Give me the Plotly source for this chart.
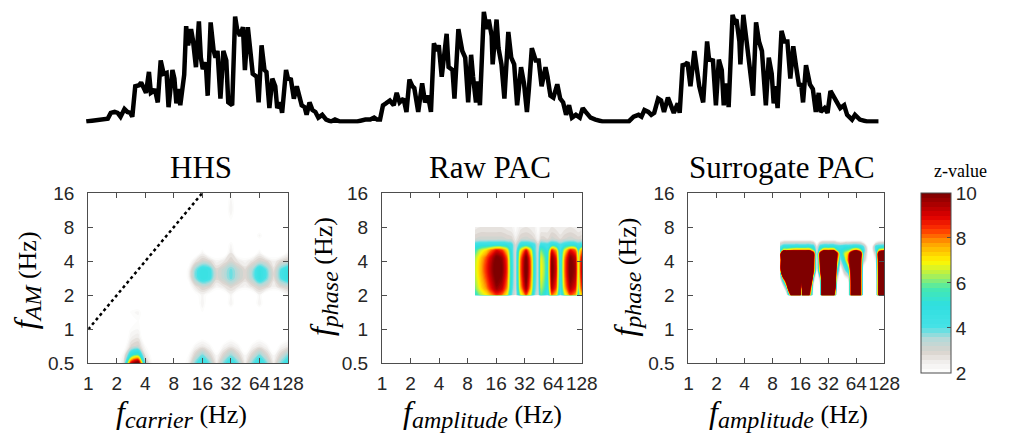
import numpy as np
import plotly.graph_objects as go

# ---------------- top signal (sample index, amplitude a.u.) ----------------
signal_sample = [0, 10, 17, 22, 25, 29, 32, 35, 39, 42, 45, 47, 50, 54, 56, 59, 61, 64, 66, 69, 70, 73, 76, 79, 82, 84,
                 88, 90, 92, 94, 96, 100, 102, 104, 107, 109, 112, 115, 117, 119, 122, 124, 127, 130, 132, 134, 137,
                 140, 143, 145, 149, 152, 154, 157, 160, 162, 165, 170, 174, 176, 179, 182, 184, 187, 190, 193, 195,
                 198, 200, 204, 206, 209, 212, 215, 218, 220, 223, 225, 228, 231, 234, 237, 241, 245, 250, 254, 259,
                 267, 277, 285, 290, 294, 297, 300,
                 303, 306, 310, 314, 317, 320, 324, 327, 330, 333, 335, 339, 343, 346, 349, 352, 355, 358, 360, 363,
                 368, 370, 374, 376, 380, 384, 387, 390, 393, 395, 398, 400, 402, 406, 409, 411, 414, 415, 419, 421,
                 424, 427, 431, 434, 437, 440, 444, 447, 450, 452, 455, 459, 462, 465, 469, 471, 474, 477, 481, 484,
                 487, 490, 493, 496, 500, 504, 507, 510, 515, 520, 527, 540, 554,
                 559, 564, 567, 570, 574, 577, 580, 584, 587, 590, 594, 597, 600, 604, 606, 609, 612, 614, 617, 621,
                 624, 626, 630, 634, 636, 640, 643, 646, 649, 651, 654, 656, 660, 662, 664, 667, 668, 671, 674, 677,
                 681, 684, 687, 690, 694, 697, 700, 702, 704, 706, 710, 713, 716, 719, 722, 725, 728, 730, 732, 735,
                 739, 742, 745, 748, 750, 754, 757, 760, 764, 767, 770, 774, 777, 782, 785, 790, 797, 809]
signal_amp = [0, 1, 2, 3, 9, 10, 9, 5, 13, 10, 9, 5, 37, 38, 41, 35, 30, 52, 30, 32, 34, 20, 64, 50, 51, 15,
              54, 45, 19, 34, 17, 49, 100, 80, 97, 85, 57, 105, 67, 55, 62, 27, 104, 75, 67, 74, 24,
              74, 64, 20, 17, 110, 97, 90, 99, 54, 99, 50, 47, 20, 80, 54, 52, 14, 45, 37, 14,
              20, 9, 54, 45, 44, 24, 37, 27, 17, 15, 7, 20, 12, 10, 4, 7, 2, 0, 2, 0,
              0, 0, 2, 2, 4, 2, 2,
              17, 19, 22, 17, 30, 20, 24, 10, 44, 37, 35, 10, 40, 20, 27, 10, 82, 74, 80, 47,
              92, 57, 54, 24, 97, 74, 67, 20, 70, 47, 20, 42, 17, 115, 97, 107, 90, 60, 107, 77,
              60, 24, 94, 67, 60, 17, 57, 40, 10, 34, 77, 64, 64, 37, 57, 47, 27, 25, 39, 24,
              20, 7, 17, 4, 7, 4, 14, 10, 4, 2, 0, 0, 0,
              5, 7, 5, 12, 10, 7, 9, 24, 22, 10, 25, 17, 9, 19, 9, 59, 60, 62, 37, 74,
              50, 37, 20, 84, 65, 64, 17, 65, 54, 17, 40, 15, 112, 105, 107, 84, 60, 112, 87, 64,
              27, 104, 84, 74, 17, 67, 50, 19, 37, 14, 95, 84, 84, 45, 79, 57, 37, 40, 20, 59,
              39, 34, 10, 30, 10, 14, 9, 32, 24, 20, 14, 17, 7, 2, 7, 2, 0, 0]

# ---------------- shared ticks ----------------
x_ticks = [1, 2, 4, 8, 16, 32, 64, 128]
x_tick_text = ["1", "2", "4", "8", "16", "32", "64", "128"]
y_ticks = [0.5, 1, 2, 4, 8, 16]
y_tick_text = ["0.5", "1", "2", "4", "8", "16"]
cbar_ticks = [2, 4, 6, 8, 10]

# ---------------- HHS ----------------
hhs_carrier_hz = [1, 1.189, 1.414, 1.682, 2, 2.378, 2.828, 3.364, 4, 4.757, 5.657, 6.727, 8, 9.514, 11.31, 13.45,
                  16, 19.03, 22.63, 26.91, 32, 38.05, 45.25, 53.82, 64, 76.11, 90.51, 107.6, 128]
hhs_am_hz = [0.5, 0.5946, 0.7071, 0.8409, 1, 1.189, 1.414, 1.682, 2, 2.378, 2.828, 3.364, 4, 4.757, 5.657, 6.727,
             8, 9.514, 11.31, 13.45, 16]
hhs_z = [
    [1.5, 1.5, 1.5, 1.5, 1.6, 2.8, 9.5, 11, 3.6, 2.0, 1.5, 1.5, 1.5, 1.6, 2.3, 3.9, 4.6, 3.9, 2.5, 3.9, 4.5, 3.9, 2.5, 3.9, 4.6, 3.9, 2.5, 3.9, 4.6],
    [1.5, 1.5, 1.5, 1.5, 1.5, 2.3, 5.0, 5.8, 2.6, 1.8, 1.5, 1.5, 1.5, 1.5, 2.0, 3.0, 3.8, 3.0, 2.2, 3.0, 3.7, 3.0, 2.2, 3.0, 3.8, 3.0, 2.2, 3.0, 3.8],
    [1.5, 1.5, 1.5, 1.5, 1.5, 1.8, 2.9, 3.1, 2.1, 1.5, 1.5, 1.5, 1.5, 1.5, 1.5, 2.3, 2.6, 2.3, 1.5, 2.3, 2.6, 2.3, 1.5, 2.3, 2.6, 2.3, 1.5, 2.3, 2.6],
    [1.5, 1.5, 1.5, 1.5, 1.5, 1.5, 2.4, 2.6, 1.5, 1.5, 1.5, 1.5, 1.5, 1.5, 1.5, 1.5, 1.9, 1.5, 1.5, 1.5, 1.9, 1.5, 1.5, 1.5, 1.9, 1.5, 1.5, 1.5, 1.9],
    [1.5, 1.5, 1.5, 1.5, 1.5, 1.5, 2.1, 2.2, 1.5, 1.5, 1.5, 1.5, 1.5, 1.5, 1.5, 1.5, 1.5, 1.5, 1.5, 1.5, 1.5, 1.5, 1.5, 1.5, 1.5, 1.5, 1.5, 1.5, 1.5],
    [1.5, 1.5, 1.5, 1.5, 1.5, 1.5, 1.5, 2.0, 1.5, 1.5, 1.5, 1.5, 1.5, 1.5, 1.5, 1.5, 1.5, 1.5, 1.5, 1.5, 1.5, 1.5, 1.5, 1.5, 1.5, 1.5, 1.5, 1.5, 1.5],
    [1.5, 1.5, 1.5, 1.5, 1.5, 1.5, 2.1, 2.3, 1.5, 1.5, 1.5, 1.5, 1.5, 1.5, 1.5, 1.5, 2.0, 1.5, 1.5, 1.5, 1.5, 1.5, 1.5, 1.5, 1.5, 1.5, 1.5, 1.5, 1.5],
    [1.5, 1.5, 1.5, 1.5, 1.5, 1.5, 1.5, 1.5, 1.5, 1.5, 1.5, 1.5, 1.5, 1.5, 1.5, 1.5, 2.4, 1.5, 1.5, 1.5, 2.4, 1.5, 1.5, 1.5, 2.4, 1.5, 1.5, 1.5, 1.5],
    [1.5, 1.5, 1.5, 1.5, 1.5, 1.5, 1.5, 1.5, 1.5, 1.5, 1.5, 1.5, 1.5, 1.5, 1.5, 1.8, 2.3, 1.8, 1.5, 1.5, 2.3, 1.5, 1.5, 1.5, 2.3, 1.5, 1.5, 1.5, 2.2],
    [1.5, 1.5, 1.5, 1.5, 1.5, 1.5, 1.5, 1.5, 1.5, 1.5, 1.5, 1.5, 1.5, 1.5, 1.7, 2.6, 3.1, 2.9, 2.3, 2.6, 2.9, 2.6, 2.3, 2.7, 3.1, 2.9, 2.4, 2.9, 3.1],
    [1.5, 1.5, 1.5, 1.5, 1.5, 1.5, 1.5, 1.5, 1.5, 1.5, 1.5, 1.5, 1.5, 1.5, 2.1, 3.7, 4.6, 4.3, 2.9, 3.3, 3.9, 3.3, 2.8, 3.5, 4.7, 3.9, 2.7, 4.0, 4.7],
    [1.5, 1.5, 1.5, 1.5, 1.5, 1.5, 1.5, 1.5, 1.5, 1.5, 1.5, 1.5, 1.5, 1.5, 2.1, 3.7, 4.6, 4.3, 2.9, 3.3, 3.9, 3.3, 2.8, 3.5, 4.7, 3.9, 2.7, 4.0, 4.7],
    [1.5, 1.5, 1.5, 1.5, 1.5, 1.5, 1.5, 1.5, 1.5, 1.5, 1.5, 1.5, 1.5, 1.5, 1.7, 2.6, 3.1, 2.9, 2.3, 2.6, 3.0, 2.6, 2.3, 2.7, 3.1, 2.9, 2.4, 2.9, 3.1],
    [1.5, 1.5, 1.5, 1.5, 1.5, 1.5, 1.5, 1.5, 1.5, 1.5, 1.5, 1.5, 1.5, 1.5, 1.5, 1.5, 2.3, 1.5, 1.5, 1.5, 2.6, 1.5, 1.5, 1.5, 2.3, 1.5, 1.5, 1.5, 2.2],
    [1.5, 1.5, 1.5, 1.5, 1.5, 1.5, 1.5, 1.5, 1.5, 1.5, 1.5, 1.5, 1.5, 1.5, 1.5, 1.5, 1.5, 1.5, 1.5, 1.5, 2.2, 1.5, 1.5, 1.5, 1.5, 1.5, 1.5, 1.5, 1.5],
    [1.5, 1.5, 1.5, 1.5, 1.5, 1.5, 1.5, 1.5, 1.5, 1.5, 1.5, 1.5, 1.5, 1.5, 1.5, 1.5, 1.5, 1.5, 1.5, 1.5, 1.5, 1.5, 1.5, 1.5, 2.3, 1.5, 1.5, 1.5, 1.5],
    [1.5, 1.5, 1.5, 1.5, 1.5, 1.5, 1.5, 1.5, 1.5, 1.5, 1.5, 1.5, 1.5, 1.5, 1.5, 1.5, 1.5, 1.5, 1.5, 1.5, 1.5, 1.5, 1.5, 1.5, 1.5, 1.5, 1.5, 1.5, 1.5],
    [1.5, 1.5, 1.5, 1.5, 1.5, 1.5, 1.5, 1.5, 1.5, 1.5, 1.5, 1.5, 1.5, 1.5, 1.5, 1.5, 1.5, 1.5, 1.5, 1.5, 2.1, 1.5, 1.5, 1.5, 1.5, 1.5, 1.5, 1.5, 1.5],
    [1.5, 1.5, 1.5, 1.5, 1.5, 1.5, 1.5, 1.5, 1.5, 1.5, 1.5, 1.5, 1.5, 1.5, 1.5, 1.5, 1.5, 1.5, 1.5, 1.5, 2.4, 1.5, 1.5, 1.5, 1.5, 1.5, 1.5, 1.5, 1.5],
    [1.5, 1.5, 1.5, 1.5, 1.5, 1.5, 1.5, 1.5, 1.5, 1.5, 1.5, 1.5, 1.5, 1.5, 1.5, 1.5, 1.5, 1.5, 1.5, 1.5, 2.3, 1.5, 1.5, 1.5, 1.5, 1.5, 1.5, 1.5, 1.5],
    [1.5, 1.5, 1.5, 1.5, 1.5, 1.5, 1.5, 1.5, 1.5, 1.5, 1.5, 1.5, 1.5, 1.5, 1.5, 1.5, 1.5, 1.5, 1.5, 1.5, 2.1, 1.5, 1.5, 1.5, 1.5, 1.5, 1.5, 1.5, 1.5],
]
diag_hz = [1, 16]

# ---------------- Raw PAC ----------------
raw_amp_hz = [9.58, 10.93, 12.55, 14.42, 16.22, 18.38, 20.82, 23.43, 25.63, 28.84, 33.13, 37.27, 40.79, 44.32,
              47.50, 51.27, 55.72, 61.82, 68.59, 76.11, 84.45, 97.01, 109.9, 117.8, 128]
raw_phase_hz = [2.0, 2.3, 2.7, 3.2, 3.7, 4.3, 5.0, 5.6, 6.3, 7.2, 8.0]
raw_z = [
    [5.2, 6.2, 6.9, 7.8, 8.4, 8.0, 6.8, 3.8, 2.7, 6.4, 8.2, 6.4, 3.8, 2.9, 5.8, 5.2, 4.2, 8.0, 7.2, 3.8, 6.4, 8.2, 7.6, 5.4, 7.6],
    [6.0, 7.0, 7.8, 8.9, 9.7, 9.2, 7.8, 4.2, 2.8, 7.4, 9.7, 7.4, 4.2, 3.0, 6.4, 5.8, 4.6, 9.4, 8.3, 4.2, 7.4, 9.5, 8.7, 6.0, 8.7],
    [6.3, 7.3, 8.2, 9.3, 10.2, 9.7, 8.2, 4.4, 2.8, 7.8, 10.2, 7.8, 4.4, 3.0, 6.8, 6.1, 4.9, 9.9, 8.7, 4.4, 7.8, 10.0, 9.2, 6.3, 9.2],
    [6.5, 7.5, 8.5, 9.6, 10.5, 10.0, 8.5, 4.5, 2.8, 8.0, 10.5, 8.0, 4.5, 3.0, 7.0, 6.3, 5.0, 10.2, 9.0, 4.5, 8.0, 10.3, 9.5, 6.5, 9.5],
    [6.5, 7.5, 8.5, 9.6, 10.5, 10.0, 8.5, 4.5, 2.8, 8.0, 10.5, 8.0, 4.5, 3.0, 7.0, 6.3, 5.0, 10.2, 9.0, 4.5, 8.0, 10.3, 9.5, 6.5, 9.5],
    [6.3, 7.3, 8.2, 9.3, 10.2, 9.7, 8.2, 4.4, 2.8, 7.8, 10.2, 7.8, 4.4, 3.0, 6.8, 6.1, 4.9, 9.9, 8.7, 4.4, 7.8, 10.0, 9.2, 6.3, 9.2],
    [5.5, 6.5, 7.2, 8.2, 8.9, 8.5, 7.2, 4.3, 2.8, 6.8, 8.9, 6.8, 4.2, 3.0, 6.0, 5.4, 4.5, 8.7, 7.7, 4.2, 6.8, 8.8, 8.1, 5.5, 8.1],
    [4.4, 4.6, 4.6, 4.7, 4.7, 4.7, 4.6, 4.2, 2.8, 4.5, 4.7, 4.5, 4.1, 2.9, 4.4, 4.3, 4.2, 4.7, 4.6, 4.1, 4.5, 4.7, 4.6, 4.3, 4.6],
    [3.0, 3.1, 3.1, 3.1, 3.1, 3.1, 3.0, 2.9, 2.5, 3.0, 3.1, 3.0, 2.8, 2.3, 2.9, 2.9, 2.8, 3.1, 3.0, 2.8, 3.0, 3.1, 3.0, 2.9, 3.0],
    [2.7, 2.8, 2.8, 2.8, 2.8, 2.8, 2.7, 2.6, 2.2, 2.7, 2.8, 2.7, 2.5, 2.1, 2.6, 2.6, 2.6, 2.8, 2.7, 2.5, 2.7, 2.8, 2.7, 2.6, 2.7],
    [2.5, 2.6, 2.6, 2.6, 2.6, 2.6, 2.5, 2.4, 2.1, 2.5, 2.6, 2.5, 2.4, 2.0, 2.4, 2.4, 2.4, 2.6, 2.5, 2.4, 2.5, 2.6, 2.5, 2.4, 2.5],
]

# ---------------- Surrogate PAC (one list per amplitude frequency, low->high phase) ----------------
sur_amp_hz = [9.65, 10.48, 11.31, 12.30, 13.93, 15.46, 16.34, 17.27, 18.38, 19.97, 22.16, 24.08, 26.17, 28.44,
              32, 36.76, 39.39, 43.11, 47.83, 52.71, 57.28, 64, 71.01, 76.11, 90.51, 103.97, 112.99, 128]
sur_phase_hz = [2.0, 2.3, 2.7, 3.3, 4.1, 4.7, 5.0, 5.4, 5.8, 6.2]
sur_z_cols = [
    [1, 1, 1.5, 4.5, 4.5, 4.5, 4.2, 3.8, 2.8, 1.8],
    [1, 1.5, 5, 20, 20, 20, 7, 4.5, 3.2, 2],
    [1.5, 4, 12, 20, 20, 20, 7, 4.6, 3.3, 2],
    [6, 15, 20, 20, 20, 20, 7.5, 4.6, 3.3, 2],
    [20, 20, 20, 20, 20, 20, 8, 4.7, 3.3, 2],
    [20, 20, 20, 20, 20, 20, 8, 4.7, 3.3, 2],
    [3, 4, 12, 20, 20, 20, 8, 4.7, 3.3, 2],
    [20, 20, 20, 20, 20, 20, 8, 4.7, 3.3, 2],
    [20, 20, 20, 20, 20, 20, 8, 4.7, 3.3, 2],
    [9, 12, 20, 20, 20, 20, 8, 4.7, 3.3, 2],
    [1.5, 1.5, 3, 9, 10, 10, 6, 4.5, 3, 1.8],
    [1, 1, 1, 1.2, 1.5, 2, 2.5, 2.5, 2, 1.5],
    [2, 2, 3, 8, 10, 10, 6, 4.5, 3, 1.8],
    [20, 20, 20, 20, 20, 20, 8, 4.7, 3.3, 2],
    [20, 20, 20, 20, 20, 20, 8, 4.7, 3.3, 2],
    [10, 15, 20, 20, 20, 20, 8, 4.7, 3.3, 2],
    [1.5, 2, 3, 6, 9, 10, 6, 4.5, 3, 1.8],
    [1, 1, 1, 1.5, 3.5, 4.5, 4.8, 4.4, 2.8, 1.6],
    [1, 1, 1.5, 3.5, 5.5, 6.5, 5.5, 4.6, 3, 1.6],
    [1.5, 1.5, 2, 5, 8.5, 7.5, 6, 4.6, 3, 1.7],
    [12, 12, 12, 12, 12, 12, 7, 4.6, 3.1, 1.8],
    [20, 20, 20, 20, 20, 20, 8, 4.7, 3.2, 1.8],
    [10, 10, 10, 10, 10, 11, 6.5, 4.5, 3, 1.7],
    [1, 1, 1, 1.5, 3.5, 4.2, 4.5, 4.0, 2.5, 1.5],
    [1, 1, 1, 1, 1, 1, 1, 1, 1, 1],
    [1, 1, 1, 1.5, 2.5, 3.5, 4.2, 4.3, 2.6, 1.5],
    [12, 12, 12, 12, 12, 12, 7, 4.5, 3, 1.7],
    [20, 20, 20, 20, 20, 20, 7.5, 4.6, 3.1, 1.8],
]
sur_z = np.array(sur_z_cols).T.tolist()

# ---------------- styling ----------------
W, H = 1010, 445
colorscale = [
    [0.0, "#ffffff"], [0.06, "#f1efed"], [0.12, "#d9d3cd"], [0.19, "#b5d9d8"],
    [0.26, "#45e2e6"], [0.38, "#2fdfe0"], [0.47, "#45e9b0"], [0.55, "#b5f04c"],
    [0.62, "#fff700"], [0.72, "#ffa200"], [0.80, "#ff3300"], [0.87, "#e00000"],
    [0.93, "#b00000"], [1.0, "#7f0000"],
]
SANS = "Liberation Sans"
SERIF = "Liberation Serif"
AX = "#4d4d4d"
TICKFONT = dict(family=SANS, size=19, color="#262626")


def px_x(p):
    return p / W


def px_y(p):
    return 1 - p / H


contour_common = dict(
    colorscale=colorscale, zmin=2, zmax=10, autocontour=False,
    contours=dict(start=2, end=10, size=0.2, coloring="fill", showlines=False),
    line=dict(width=0, smoothing=1.0), hoverinfo="skip",
)

fig = go.Figure()
fig.add_trace(go.Scatter(x=signal_sample, y=signal_amp, mode="lines",
                         line=dict(color="black", width=4.5), xaxis="x", yaxis="y",
                         showlegend=False, hoverinfo="skip"))
fig.add_trace(go.Contour(x=hhs_carrier_hz, y=hhs_am_hz, z=hhs_z, xaxis="x2", yaxis="y2",
                         showscale=False, **contour_common))
fig.add_trace(go.Scatter(x=diag_hz, y=diag_hz, mode="lines", xaxis="x2", yaxis="y2",
                         line=dict(color="black", width=2.5, dash="dot"), showlegend=False))
fig.add_trace(go.Contour(x=raw_amp_hz, y=raw_phase_hz, z=raw_z, xaxis="x3", yaxis="y3",
                         showscale=False, **contour_common))
fig.add_trace(go.Contour(
    x=sur_amp_hz, y=sur_phase_hz, z=sur_z, xaxis="x4", yaxis="y4", showscale=True,
    colorbar=dict(x=px_x(935), xanchor="left", xpad=0, ypad=0, y=px_y(192), yanchor="top",
                  len=180, lenmode="pixels", thickness=30, thicknessmode="pixels",
                  outlinewidth=1, outlinecolor=AX, tickvals=cbar_ticks, ticks="inside",
                  ticklen=4, tickcolor=AX, tickfont=TICKFONT),
    **contour_common))

xcommon = dict(type="log", range=[0, np.log10(128)], tickvals=x_ticks, ticktext=x_tick_text,
               showline=True, linecolor=AX, linewidth=1, mirror="ticks", ticks="inside",
               ticklen=5, tickcolor=AX, showgrid=False, zeroline=False, ticklabelstandoff=3,
               tickangle=0, tickfont=TICKFONT)
ycommon = dict(type="log", range=[np.log10(0.5), np.log10(16)], tickvals=y_ticks, ticktext=y_tick_text,
               showline=True, linecolor=AX, linewidth=1, mirror="ticks", ticks="inside",
               ticklen=5, tickcolor=AX, showgrid=False, zeroline=False, ticklabelstandoff=9,
               tickangle=0, tickfont=TICKFONT)

ydom = [px_y(371), px_y(192)]
fig.update_layout(
    width=W, height=H, margin=dict(l=0, r=0, t=0, b=0),
    paper_bgcolor="white", plot_bgcolor="white", showlegend=False,
    xaxis=dict(domain=[px_x(80), px_x(895)], range=[-3, 812], visible=False),
    yaxis=dict(domain=[px_y(119), 1.0], range=[-2, 117], visible=False),
    xaxis2=dict(domain=[px_x(85), px_x(289)], anchor="y2", **xcommon),
    yaxis2=dict(domain=ydom, anchor="x2", **ycommon),
    xaxis3=dict(domain=[px_x(385), px_x(589)], anchor="y3", **xcommon),
    yaxis3=dict(domain=ydom, anchor="x3", **ycommon),
    xaxis4=dict(domain=[px_x(698), px_x(898)], anchor="y4", **xcommon),
    yaxis4=dict(domain=ydom, anchor="x4", **ycommon),
)


def sub_title(name):
    return ("<i><span style='font-size:32px'>f</span></i><sub><i><span style='font-size:24px'>"
            + name + "</span></i></sub> <span style='font-size:26px'>(Hz)</span>")


annots = [
    dict(text="HHS", x=px_x(200), y=px_y(165), font=dict(family=SERIF, size=31, color="black")),
    dict(text="Raw PAC", x=px_x(495), y=px_y(165), font=dict(family=SERIF, size=31, color="black")),
    dict(text="Surrogate PAC", x=px_x(793), y=px_y(165), font=dict(family=SERIF, size=31, color="black")),
    dict(text="z-value", x=px_x(976), y=px_y(169), font=dict(family=SERIF, size=18, color="black")),
    dict(text=sub_title("carrier"), x=px_x(180), y=px_y(423), font=dict(family=SERIF, size=26, color="black")),
    dict(text=sub_title("amplitude"), x=px_x(488), y=px_y(423), font=dict(family=SERIF, size=26, color="black")),
    dict(text=sub_title("amplitude"), x=px_x(800), y=px_y(423), font=dict(family=SERIF, size=26, color="black")),
    dict(text=sub_title("AM"), x=px_x(22), y=px_y(284), textangle=-90, font=dict(family=SERIF, size=26, color="black")),
    dict(text=sub_title("phase"), x=px_x(325), y=px_y(280), textangle=-90, font=dict(family=SERIF, size=26, color="black")),
    dict(text=sub_title("phase"), x=px_x(635), y=px_y(280), textangle=-90, font=dict(family=SERIF, size=26, color="black")),
]
for a in annots:
    a.update(xref="paper", yref="paper", showarrow=False, xanchor="center", yanchor="middle")
fig.update_layout(annotations=annots)

fig.write_html("out.html")
